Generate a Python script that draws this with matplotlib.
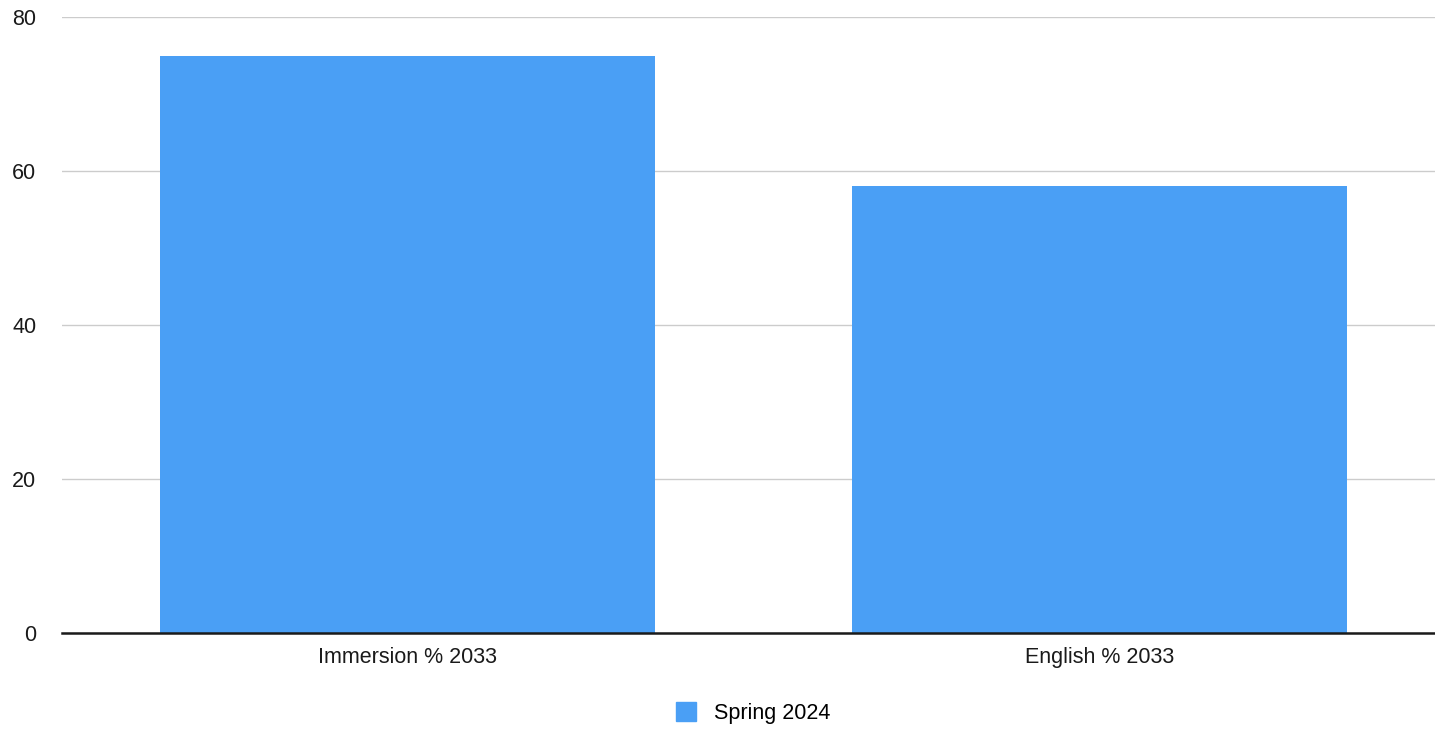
import matplotlib
matplotlib.use("Agg")
import matplotlib.pyplot as plt
from matplotlib.patches import Patch

categories = ["Immersion % 2033", "English % 2033"]
values = [75, 58]
series_name = "Spring 2024"
yticks = [0, 20, 40, 60, 80]

plt.rcParams["font.family"] = ["Liberation Sans", "DejaVu Sans"]
BLUE = "#4a9ff5"

fig = plt.figure(figsize=(14.35, 7.3), dpi=100)
ax = fig.add_axes([62 / 1435, 1 - 633 / 730, 1383 / 1435, 616 / 730])

x = range(len(categories))
ax.bar(x, values, width=0.716, color=BLUE, zorder=2)
ax.set_xlim(-0.5, len(categories) - 0.5)
ax.set_ylim(0, 80)
ax.set_yticks(yticks)
ax.set_xticks(list(x))
ax.set_xticklabels(categories)
ax.grid(axis="y", color="#cccccc", lw=1.0, zorder=0)
ax.axhline(0, color="#1a1a1a", lw=1.8, zorder=3, clip_on=False)
for s in ax.spines.values():
    s.set_visible(False)
ax.tick_params(axis="both", length=0, labelsize=15.5, colors="#1a1a1a")
ax.tick_params(axis="y", pad=18.5)
ax.tick_params(axis="x", pad=10)
for lbl in ax.get_yticklabels():
    lbl.set_horizontalalignment("right")

fig.legend(handles=[Patch(color=BLUE, label=series_name)],
           loc="center", bbox_to_anchor=(753 / 1435, 1 - 713 / 730),
           frameon=False, fontsize=15.5, handlelength=0.95, handleheight=1.0,
           handletextpad=0.8)

fig.savefig("out.png", dpi=100)
